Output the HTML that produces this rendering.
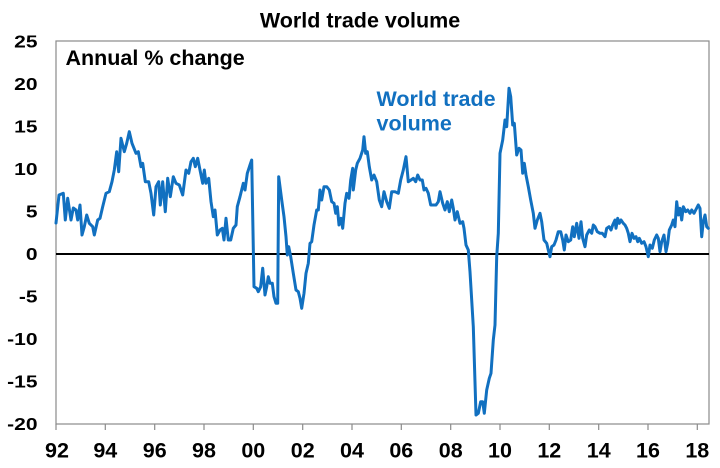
<!DOCTYPE html>
<html>
<head>
<meta charset="utf-8">
<style>
  html,body{margin:0;padding:0;background:#fff;}
  body{width:720px;height:468px;overflow:hidden;}
  svg{display:block;}
  text{font-family:"Liberation Sans",Arial,sans-serif;font-weight:bold;}
</style>
</head>
<body>
<svg width="720" height="468" viewBox="0 0 720 468" xmlns="http://www.w3.org/2000/svg">
  <rect x="0" y="0" width="720" height="468" fill="#fff"/>
  <!-- Title -->
  <text x="360" y="27.7" font-size="21.5" text-anchor="middle" fill="#000">World trade volume</text>

  <!-- Plot box -->
  <rect x="56" y="41" width="653" height="383" fill="none" stroke="#8a8a8a" stroke-width="1.2"/>

  <!-- X ticks -->
  <g stroke="#8a8a8a" stroke-width="1.2">
    <line x1="56" y1="424" x2="56" y2="430"/>
    <line x1="105.3" y1="424" x2="105.3" y2="430"/>
    <line x1="154.7" y1="424" x2="154.7" y2="430"/>
    <line x1="204" y1="424" x2="204" y2="430"/>
    <line x1="253.3" y1="424" x2="253.3" y2="430"/>
    <line x1="302.7" y1="424" x2="302.7" y2="430"/>
    <line x1="352" y1="424" x2="352" y2="430"/>
    <line x1="401.3" y1="424" x2="401.3" y2="430"/>
    <line x1="450.7" y1="424" x2="450.7" y2="430"/>
    <line x1="500" y1="424" x2="500" y2="430"/>
    <line x1="549.3" y1="424" x2="549.3" y2="430"/>
    <line x1="598.7" y1="424" x2="598.7" y2="430"/>
    <line x1="648" y1="424" x2="648" y2="430"/>
    <line x1="697.3" y1="424" x2="697.3" y2="430"/>
  </g>

  <!-- X labels -->
  <g font-size="21.5" text-anchor="middle" fill="#000">
    <text x="57" y="457.3">92</text>
    <text x="105.3" y="457.3">94</text>
    <text x="154.7" y="457.3">96</text>
    <text x="204" y="457.3">98</text>
    <text x="253.3" y="457.3">00</text>
    <text x="302.7" y="457.3">02</text>
    <text x="352" y="457.3">04</text>
    <text x="401.3" y="457.3">06</text>
    <text x="450.7" y="457.3">08</text>
    <text x="500" y="457.3">10</text>
    <text x="549.3" y="457.3">12</text>
    <text x="598.7" y="457.3">14</text>
    <text x="648" y="457.3">16</text>
    <text x="697.3" y="457.3">18</text>
  </g>

  <!-- Y labels -->
  <g font-size="21" text-anchor="end" fill="#000">
    <text transform="translate(37.5,47.3) scale(1,0.83)">25</text>
    <text transform="translate(37.5,89.8) scale(1,0.83)">20</text>
    <text transform="translate(37.5,132.4) scale(1,0.83)">15</text>
    <text transform="translate(37.5,174.9) scale(1,0.83)">10</text>
    <text transform="translate(37.5,217.5) scale(1,0.83)">5</text>
    <text transform="translate(37.5,260.0) scale(1,0.83)">0</text>
    <text transform="translate(37.5,302.6) scale(1,0.83)">-5</text>
    <text transform="translate(37.5,345.1) scale(1,0.83)">-10</text>
    <text transform="translate(37.5,387.7) scale(1,0.83)">-15</text>
    <text transform="translate(37.5,430.2) scale(1,0.83)">-20</text>
  </g>

  <!-- Annotations -->
  <text x="65.5" y="65" font-size="21.5" fill="#000">Annual % change</text>
  <text x="376.5" y="106" font-size="21.5" fill="#1170C0">World trade</text>
  <text x="376.5" y="130.5" font-size="21.5" fill="#1170C0">volume</text>

  <!-- Zero line -->
  <line x1="56" y1="254" x2="709" y2="254" stroke="#000" stroke-width="2"/>

  <!-- Series -->
  <polyline fill="none" stroke="#1170C0" stroke-width="3" stroke-linejoin="round" stroke-linecap="round"
    points="56,223 59,195 63.3,193.3 65.3,220 67.7,198.3 71,220 73.3,208 76,210 77.7,220 80,205 82,235 84.3,226.7 86.7,215 89.3,223.3 92.7,226.7 94.3,235 97.7,220 100,218.3 102.7,206.7 106,193.3 109.3,191.7 112,181.7 114.3,170 116.7,151.7 118.7,171.7 121,138.3 124.3,151.7 126.7,143.3 129.3,131.7 132,143.3 136,153.3 138.3,151.7 141,166.7 142.7,163.3 145.3,181.7 148.7,181.7 151,193.3 153.7,215 156,186.7 158.7,181.7 160.3,205 162.7,181.7 165.3,211.7 167.7,178.3 170.3,196.7 173.3,176.7 176,183.3 179.3,185 182.7,195 186,170 188.7,173.3 191,161.7 193.3,158.3 195.3,166.7 197.7,158.3 200,170 202.7,183.3 204.3,170 206,183.3 208.7,178.3 211,201.7 213.3,216.7 215,210 217.3,235 220,230 222.3,228.3 224,240 226,218.3 228.3,240 230.7,240 233.3,228.3 236,225 237.3,206.7 240,196.7 243.3,183.3 245,190 247.3,173.3 250,165 251.7,160 254,286.7 256.7,288.3 258.3,291.7 260.7,286.7 262.7,268.3 265,295 266.7,286.7 268.3,276.7 270,283.3 272.3,283.3 274,296.7 276,303.3 277.7,303.3 278.7,176.7 281.7,200 284,216.7 286,236.7 287.3,255 288.7,246.7 290.7,256.7 293.3,273.3 296,290 298.3,291.7 300,298.3 301.7,308.3 304,293.3 306,273.3 308.3,263.3 310,243.3 311.7,241.7 314,225 316.7,210 318.3,210 320,190 321.7,200 324,186.7 326.7,186.7 329.3,190 331.7,201.7 334,203.3 335.7,213.3 337.3,206.7 339,225 341,218.3 342.7,228.3 345,203.3 346.7,193.3 349,198.3 350.7,180 352.7,168.3 353.3,190 355.7,170 357.3,163.3 360,158.3 362.7,150 364,136.7 365.7,153.3 367.3,151.7 369.3,166.7 371.7,180 374,175 376.7,181.7 379.3,200 381.7,206.7 384,191.7 386.7,201.7 389.3,208.3 391.7,191.7 395,191.7 398.3,193.3 400.7,180 403.3,170 406,156.7 408.3,181.7 411,180 413.3,178.3 415.7,181.7 417.7,175 420,180 422.3,180 424,190 426,188.3 428.3,193.3 430.7,205 433.3,205 436,205 438.3,201.7 440,191.7 442.7,203.3 445,210 447.3,201.7 449.3,211.7 451.7,200 453.3,208.3 455,220 457.3,211.7 460,223.3 462.7,221.7 464,228.3 466,245 468.3,250 470,271.7 473.3,326.7 476,415 478.3,413.3 480.7,401.7 482.7,401.7 484.3,413.3 486.7,390 489.3,378.3 491,373.3 493.3,340 495,325 496.7,256.7 498.3,233.3 500,153.3 502.7,140 505,120 506.7,126.7 509,88.3 510.7,96.7 512.7,125 514.3,123.3 516.7,155 519,148.3 521,150 522.7,173.3 524.3,163.3 526,175 528.3,186.7 530.7,200 533.3,213.3 535,228.3 537.3,220 540,213.3 541.7,221.7 544,240 546.7,243.3 548.3,250 550,256.7 551.7,246.7 554,245 556,240 558.3,231.7 560.7,231.7 562.7,240 564.3,250 566,235 568.3,241.7 570.7,240 572.7,226.7 574.3,236.7 576.7,223.3 579,238.3 581,221.7 582.7,238.3 585,246.7 586.7,235 589.3,230 591.7,233.3 593.3,225 595,226.7 597.3,231.7 600,233.3 602.3,233.3 605,236.7 606.7,228.3 609,226.7 611,230 612.7,225 615,220 616,228.3 617.7,218.3 619.3,223.3 621,220 623.3,223.3 625,225 626.7,228.3 628.3,233.3 630,241.7 632,233.3 634,238.3 636,236.7 637.7,241.7 639.3,238.3 641.7,243.3 644,241.7 646,246.7 648.3,256.7 650,245 652.3,248.3 654.3,240 656.7,235 658.3,238.3 660,251.7 661.7,241.7 664,235 666,251.7 667.7,243.3 669.3,230 671.7,225 673.3,220 675,226.7 676.7,201.7 678.3,215 680,208.3 681.7,220 683.3,206.7 685.7,211.7 687.7,210 690,213.3 691.7,210 694,213.3 695.7,210 698.3,205 700,208.3 701.7,236.7 703.3,221.7 705,215 706.7,226.7 708.3,228.3"/>
</svg>
</body>
</html>
